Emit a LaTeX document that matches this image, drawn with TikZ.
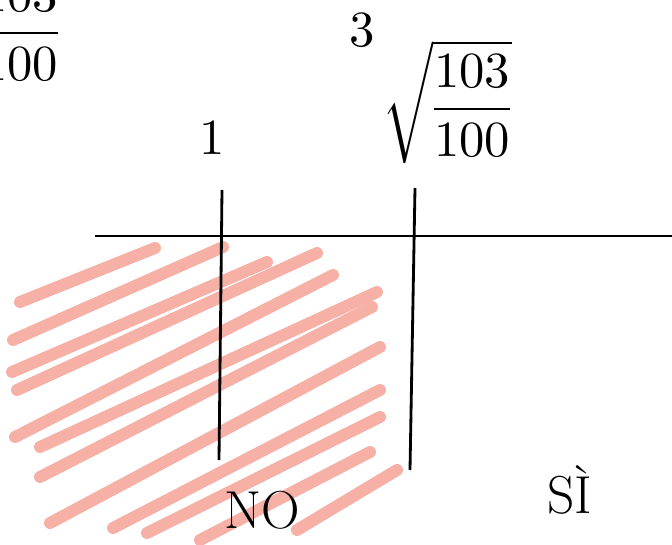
\documentclass[tikz,border=0pt]{standalone}
\usepackage{amsmath}
\usepackage{unicode-math}
\definecolor{hatch}{RGB}{246,176,166}
\begin{document}
\begin{tikzpicture}[x=0.025cm,y=-0.025cm,every node/.style={font=\fontsize{36}{40}\selectfont}]
        \useasboundingbox (0,0) rectangle (672,545);
        \clip (0,0) rectangle (672,545);
        % hatching of the NO region
        \foreach \xa/\ya/\xb/\yb in {20/302/155/248, 13/340/223/247, 12/372/267/262, 17/390/317/253,
                15/437/333/275, 40/447/377/292, 40/477/372/307, 50/523/380/347,
                113/528/380/390, 147/533/380/417, 200/540/370/452, 297/530/397/470}
            \draw[hatch, line width=8.5pt, line cap=round] (\xa,\ya) -- (\xb,\yb);
        \node (cut) at (20,30) {$\dfrac{103}{100}$};
        \node (one) at (212,138) {$1$};
        \node (root) at (447,102) {$\sqrt{\dfrac{103}{100}}$};
        \node (index) at (362,30) {$3$};
        \node[font=\fontsize{38}{42}\selectfont] (no) at (262,510) {NO};
        \node[font=\fontsize{38}{42}\selectfont] (si) at (570,490) {SÌ};
        \coordinate (left) at (95,236);
        \coordinate (right) at (672,236);
        \coordinate (atop) at (222,190);
        \coordinate (abot) at (219,460);
        \coordinate (btop) at (415,188);
        \coordinate (bbot) at (410,470);
        \draw[line width=2pt] (left) -- (right);
        \draw[line width=2pt] (atop) -- (abot);
        \draw[line width=2pt] (btop) -- (bbot);
    \end{tikzpicture}
\end{document}
